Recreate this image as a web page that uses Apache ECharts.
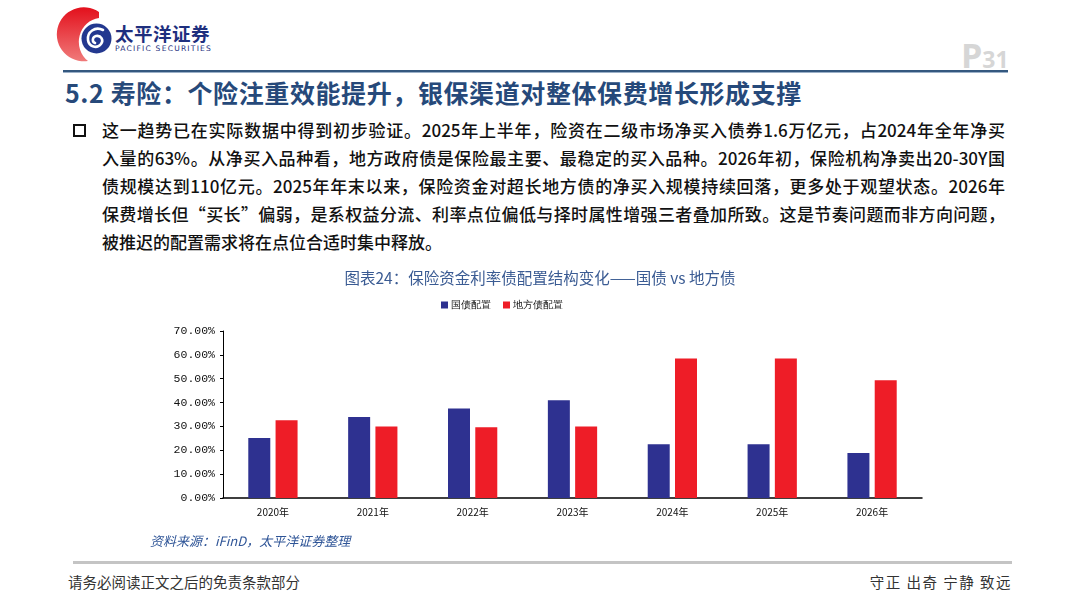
<!DOCTYPE html>
<html>
<head>
<meta charset="utf-8">
<script src="https://cdn.jsdelivr.net/npm/echarts@6/dist/echarts.min.js"></script>
<style>
  html, body { margin: 0; padding: 0; background: #fff; }
  body { width: 1080px; height: 608px; position: relative; overflow: hidden; font-family: "Noto Sans CJK SC", sans-serif; }
  .abs { position: absolute; }
  .topline { left: 63px; top: 70px; width: 945px; height: 2px; background: #34587f; border-bottom: 1px solid #9bb0c8; }
  .title { left: 65px; top: 76px; font-size: 25px; line-height: 32px; font-weight: bold; color: #26497a; white-space: nowrap; letter-spacing: 0.6px; }
  .page { left: 961px; top: 32px; color: #d6d6d6; font-weight: bold; font-family: "Open Sans", sans-serif; white-space: nowrap; }
  .page .p { font-size: 34px; }
  .page .n { font-size: 23px; }
  .bullet { left: 73px; top: 124px; width: 9px; height: 9px; border: 2.5px solid #111; }
  .para { left: 102px; top: 116px; width: 903px; font-size: 17px; line-height: 28px; font-weight: 500; color: #111; }
  .para div { height: 28px; white-space: normal; }
  .para .j { text-align: justify; text-align-last: justify; }
  .footline { left: 73px; top: 561px; width: 939px; height: 3px; background: #c4c4c4; }
  .foot { top: 572px; font-size: 14.5px; line-height: 20px; color: #333; white-space: nowrap; }
  #chart { position: absolute; left: 0; top: 0; width: 1080px; height: 608px; }
</style>
</head>
<body>
<svg class="abs" style="left:0;top:0" width="230" height="70">
  <defs>
    <linearGradient id="rg" x1="0" y1="0" x2="0" y2="1">
      <stop offset="0" stop-color="#e3101c"/>
      <stop offset="1" stop-color="#f07a7a"/>
    </linearGradient>
  </defs>
  <!-- red crescent -->
  <path d="M99,12 A27,27 0 1 0 88,61 A23,24 0 0 1 99,18 Z" fill="url(#rg)"/>
  <!-- blue disc with swirl -->
  <circle cx="96.5" cy="38.5" r="15" fill="#23388f"/>
  <path d="M103,30 C95,26 87,32 88,40 C89,47 97,49 101,44 C104,40 101,35 96,36 C92,37 92,42 95,43"
        fill="none" stroke="#fff" stroke-width="2.6" stroke-linecap="round"/>
  <text x="115" y="41" font-family="Noto Sans CJK SC" font-weight="bold" font-size="18.5" fill="#1e2f7e" letter-spacing="0.5">太平洋证券</text>
  <text x="115" y="51" font-family="DejaVu Sans" font-size="7.6" fill="#1e2f7e" letter-spacing="1.2">PACIFIC SECURITIES</text>
</svg>
<div class="abs page"><span class="p">P</span><span class="n">31</span></div>
<div class="abs topline"></div>
<div class="abs title">5.2 寿险：个险注重效能提升，银保渠道对整体保费增长形成支撑</div>
<div class="abs bullet"></div>
<div class="abs para">
  <div class="j">这一趋势已在实际数据中得到初步验证。2025年上半年，险资在二级市场净买入债券1.6万亿元，占2024年全年净买</div>
  <div class="j">入量的63%。从净买入品种看，地方政府债是保险最主要、最稳定的买入品种。2026年初，保险机构净卖出20-30Y国</div>
  <div class="j">债规模达到110亿元。2025年年末以来，保险资金对超长地方债的净买入规模持续回落，更多处于观望状态。2026年</div>
  <div class="j">保费增长但“买长”偏弱，是系权益分流、利率点位偏低与择时属性增强三者叠加所致。这是节奏问题而非方向问题，</div>
  <div>被推迟的配置需求将在点位合适时集中释放。</div>
</div>
<div class="abs footline"></div>
<div class="abs foot" style="left:68px">请务必阅读正文之后的免责条款部分</div>
<div class="abs foot" style="right:68px; letter-spacing: 1.5px;">守正 出奇 宁静 致远</div>
<div id="chart"></div>
<script>
// 年份与两类债券配置占比（%）
var years = ['2020年', '2021年', '2022年', '2023年', '2024年', '2025年', '2026年'];
var govBond = [25.1, 34.0, 37.5, 41.0, 22.5, 22.5, 18.9];
var localBond = [32.6, 30.0, 29.7, 30.0, 58.5, 58.5, 49.4];
var seriesNames = ['国债配置', '地方债配置'];

var chart = echarts.init(document.getElementById('chart'));

var option = {
  animation: false,
  title: [
    {
      text: '图表24：保险资金利率债配置结构变化——国债 vs 地方债',
      left: 535,
      top: 265,
      textAlign: 'center',
      textStyle: { fontSize: 15.5, fontWeight: 'normal', color: '#3a5b93', fontFamily: 'Noto Sans CJK SC' }
    },
    {
      text: '资料来源：iFinD，太平洋证券整理',
      left: 145,
      top: 530,
      textStyle: { fontSize: 13, fontWeight: 'normal', fontStyle: 'italic', color: '#2f5597', fontFamily: 'Noto Sans CJK SC' }
    }
  ],
  legend: {
    data: seriesNames,
    left: 436,
    top: 295,
    itemWidth: 7,
    itemHeight: 7,
    itemGap: 12,
    icon: 'rect',
    textStyle: { fontSize: 10, color: '#111', padding: [0, 0, 0, -2] }
  },
  grid: { left: 223, right: 158, top: 331, bottom: 110 },
  xAxis: {
    type: 'category',
    data: years,
    axisTick: { show: false },
    axisLine: { lineStyle: { color: '#000', width: 1.5 } },
    axisLabel: { color: '#111', fontSize: 10, margin: 9, fontFamily: 'Noto Sans CJK SC' }
  },
  yAxis: {
    type: 'value',
    min: 0,
    max: 70,
    interval: 10,
    splitLine: { show: false },
    axisLine: { show: true, lineStyle: { color: '#000', width: 1 } },
    axisTick: { show: true, length: 3, lineStyle: { color: '#000' } },
    axisLabel: {
      color: '#111',
      fontSize: 11.5,
      margin: 8,
      fontFamily: 'Liberation Mono',
      formatter: function (v) { return v.toFixed(2) + '%'; }
    }
  },
  series: [
    {
      name: seriesNames[0],
      type: 'bar',
      data: govBond,
      barWidth: 22,
      barGap: '24%',
      itemStyle: { color: '#2e3190' }
    },
    {
      name: seriesNames[1],
      type: 'bar',
      data: localBond,
      barWidth: 22,
      itemStyle: { color: '#ee1d27' }
    }
  ]
};

chart.setOption(option);
</script>
</body>
</html>
